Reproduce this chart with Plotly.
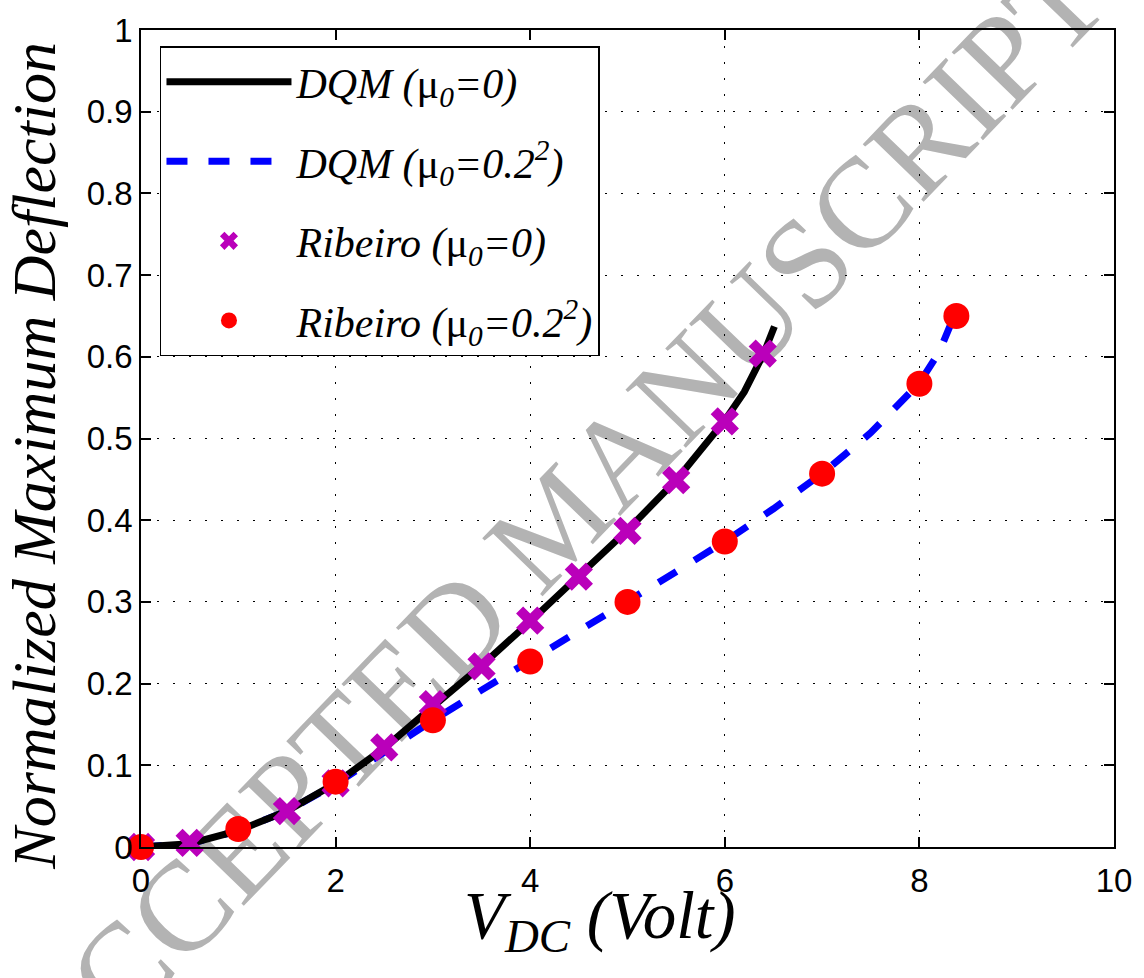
import plotly.graph_objects as go

# ---- data ----
dqm0_x = [0, 0.25, 0.5, 1, 1.5, 2, 2.5, 3, 3.5, 4, 4.5, 5, 5.5, 6, 6.2, 6.4, 6.51]
dqm0_y = [0, 0.001, 0.004, 0.02, 0.044, 0.078, 0.121, 0.172, 0.222, 0.276, 0.331, 0.388, 0.449, 0.522, 0.557, 0.604, 0.637]

dqm2_x = [0, 0.5, 1, 1.5, 2, 2.5, 3, 3.5, 4, 4.5, 5, 5.5, 6, 6.5, 7, 7.5, 8, 8.2, 8.41]
dqm2_y = [0, 0.004, 0.02, 0.044, 0.077, 0.117, 0.155, 0.192, 0.228, 0.263, 0.300, 0.337, 0.374, 0.414, 0.457, 0.507, 0.568, 0.605, 0.665]

rib0_x = [0, 0.5, 1.5, 2, 2.5, 3, 3.5, 4, 4.5, 5, 5.5, 6, 6.39]
rib0_y = [0, 0.005, 0.044, 0.078, 0.122, 0.175, 0.221, 0.277, 0.331, 0.387, 0.449, 0.521, 0.604]

rib2_x = [0, 1, 2, 3, 4, 5, 6, 7, 8, 8.38]
rib2_y = [0, 0.022, 0.080, 0.155, 0.227, 0.300, 0.374, 0.457, 0.567, 0.650]

x_ticks = [0, 2, 4, 6, 8, 10]
x_ticklabels = ["0", "2", "4", "6", "8", "10"]
y_ticks = [0, 0.1, 0.2, 0.3, 0.4, 0.5, 0.6, 0.7, 0.8, 0.9, 1]
y_ticklabels = ["0", "0.1", "0.2", "0.3", "0.4", "0.5", "0.6", "0.7", "0.8", "0.9", "1"]

names = [
    "<i>DQM (</i>μ<sub><i>0</i></sub><i>=0)</i>",
    "<i>DQM (</i>μ<sub><i>0</i></sub><i>=0.2<sup>2</sup>)</i>",
    "<i>Ribeiro (</i>μ<sub><i>0</i></sub><i>=0)</i>",
    "<i>Ribeiro (</i>μ<sub><i>0</i></sub><i>=0.2<sup>2</sup>)</i>",
]

SERIF = "Liberation Serif, Times New Roman, serif"
SANS = "Liberation Sans, Arial, sans-serif"

fig = go.Figure()
fig.add_trace(go.Scatter(x=dqm2_x, y=dqm2_y, mode="lines", name=names[1], legendrank=2,
                         legendgroup="b", line=dict(color="#0000FF", width=7, dash="21px,21px"),
                         cliponaxis=False))
fig.add_trace(go.Scatter(x=dqm0_x, y=dqm0_y, mode="lines", name=names[0], legendrank=1,
                         legendgroup="a", line=dict(color="black", width=7), cliponaxis=False))
fig.add_trace(go.Scatter(x=rib0_x, y=rib0_y, mode="markers", name=names[2], legendrank=3,
                         legendgroup="c", marker=dict(symbol="x", size=25, color="#BA00BA", line=dict(width=0)),
                         cliponaxis=False))
fig.add_trace(go.Scatter(x=rib2_x, y=rib2_y, mode="markers", name=names[3], legendrank=4,
                         legendgroup="d", marker=dict(symbol="circle", size=26, color="#FF0000", line=dict(width=0)),
                         cliponaxis=False))

axis_common = dict(
    showline=True, linecolor="black", linewidth=1.5, mirror="ticks",
    ticks="inside", ticklen=10, tickwidth=1.5, tickcolor="black",
    showgrid=True, gridcolor="black", gridwidth=1.3, griddash="2px,14px",
    zeroline=False, tickfont=dict(family=SANS, size=33, color="black"),
    ticklabeloverflow="allow",
)

fig.update_xaxes(range=[0, 10], tickvals=x_ticks, ticktext=x_ticklabels, ticklabelstandoff=4, **axis_common)
fig.update_yaxes(range=[0, 1], tickvals=y_ticks, ticktext=y_ticklabels, **axis_common)

fig.update_layout(
    width=1144, height=978,
    margin=dict(l=141, r=30, t=18, b=131),
    paper_bgcolor="white", plot_bgcolor="white",
    showlegend=True,
    legend=dict(
        x=0.0195, y=0.98, xanchor="left", yanchor="top",
        bgcolor="white", bordercolor="black", borderwidth=1.5,
        font=dict(family=SERIF, size=42, color="black"),
        itemwidth=125, tracegroupgap=22, traceorder="grouped",
    ),
    annotations=[
        dict(text="<i>Normalized Maximum Deflection</i>", textangle=-90,
             xref="paper", yref="paper", x=-0.11, y=0.479, xanchor="center", yanchor="middle",
             showarrow=False, font=dict(family=SERIF, size=62, color="black")),
        dict(text="<i>V<sub>DC</sub> (Volt)</i>",
             xref="paper", yref="paper", x=0.472, y=-0.036, xanchor="center", yanchor="top",
             showarrow=False, font=dict(family=SERIF, size=67, color="black")),
    ],
    shapes=[
        dict(type="line", xref="paper", yref="paper", x0=0.30, y0=0.29, x1=0.53, y1=0.53,
             layer="below", line=dict(width=0, color="rgba(0,0,0,0)"),
             label=dict(text="ACCEPTED MANUSCRIPT", textangle=-46, textposition="middle",
                        xanchor="center", yanchor="middle",
                        font=dict(family=SERIF, size=128, color="#B3B3B3"))),
    ],
)

fig.write_html("out.html")
